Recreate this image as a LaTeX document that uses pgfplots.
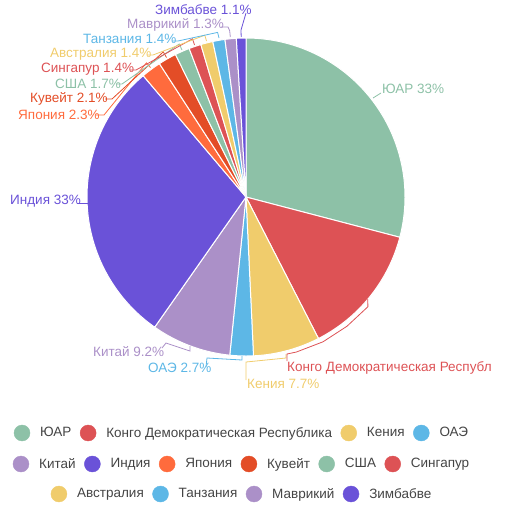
\documentclass[border=0pt]{standalone}
\usepackage{fontspec}
\setmainfont{Liberation Sans}
\usepackage{pgfplots}
\usepackage{pgfplotstable}
\pgfplotsset{compat=1.18}
\definecolor{cA}{RGB}{141,193,167}
\definecolor{cB}{RGB}{221,82,85}
\definecolor{cC}{RGB}{240,204,108}
\definecolor{cD}{RGB}{93,183,230}
\definecolor{cE}{RGB}{171,144,200}
\definecolor{cF}{RGB}{106,82,216}
\definecolor{cG}{RGB}{255,107,61}
\definecolor{cH}{RGB}{227,77,39}
\definecolor{legtxt}{RGB}{68,68,68}
\pgfplotstableread{
idx value col
0 33 cA
1 15.2 cB
2 7.7 cC
3 2.7 cD
4 9.2 cE
5 33 cF
6 2.3 cG
7 2.1 cH
8 1.7 cA
9 1.4 cB
10 1.4 cC
11 1.4 cD
12 1.3 cE
13 1.1 cF
}\piedata
\newcommand\lblfont{\fontsize{13.5}{15}\selectfont}
\begin{document}
\begin{tikzpicture}
\useasboundingbox (0,0) rectangle (510pt,509pt);
\begin{axis}[at={(0,0)}, anchor=south west, x=1pt, y=1pt,
  xmin=0, xmax=510, ymin=0, ymax=509, y dir=reverse,
  hide axis, clip=false]
\gdef\total{0}
\pgfplotsforeachungrouped \i in {0,...,13} {%
  \pgfplotstablegetelem{\i}{value}\of\piedata
  \pgfmathsetmacro\tmpsum{\total+\pgfplotsretval}\xdef\total{\tmpsum}%
}
\gdef\cum{0}
\pgfplotsforeachungrouped \i in {0,...,13} {%
  \pgfplotstablegetelem{\i}{value}\of\piedata \let\myv\pgfplotsretval
  \pgfplotstablegetelem{\i}{col}\of\piedata \let\myc\pgfplotsretval
  \pgfmathsetmacro\aS{90-\cum/\total*360}%
  \pgfmathsetmacro\tmpsum{\cum+\myv}\xdef\cum{\tmpsum}%
  \pgfmathsetmacro\aE{90-\cum/\total*360}%
  \edef\doplot{\noexpand\addplot[fill=\myc, draw=white, line width=1pt, line join=round, domain=\aE:\aS, samples=80] ({246+159*cos(x)},{197-159*sin(x)}) -- (axis cs:246,197) -- cycle;}%
  \doplot
}
% leader lines
\begin{scope}[line width=0.8pt]
\draw[cA] (axis cs:373,98) -- (axis cs:381,93);
\draw[cF] (axis cs:77,203) -- (axis cs:88,203);
\draw[cE] (axis cs:162,348) -- (axis cs:166,343) -- (axis cs:190,351) -- (axis cs:190,346);
\draw[cD] (axis cs:206,367) -- (axis cs:207,358) -- (axis cs:242,360) -- (axis cs:242,356);
\draw[cC] (axis cs:246,380) -- (axis cs:246,362) -- (axis cs:286,358) -- (axis cs:286,354);
\draw[cB] (axis cs:287,361) -- (axis cs:287,354) -- (axis cs:{246+163*cos(-72)},{197+163*sin(72)}) -- (axis cs:{246+164*cos(-62)},{197+164*sin(62)}) -- (axis cs:{246+164*cos(-52)},{197+164*sin(52)}) -- (axis cs:{246+164*cos(-42)},{197+164*sin(42)}) -- (axis cs:{246+159*cos(-40)},{197+159*sin(40)});
\draw[cG] (axis cs:96,115) -- (axis cs:104,115) -- (axis cs:146.4,62.9) -- (axis cs:150.5,67.5);
\draw[cH] (axis cs:105,99) -- (axis cs:112,99) -- (axis cs:163.3,51.9) -- (axis cs:166.5,57.5);
\draw[cA] (axis cs:116,84) -- (axis cs:122,84) -- (axis cs:179.2,44.0) -- (axis cs:182,50);
\draw[cB] (axis cs:130,70) -- (axis cs:136,70) -- (axis cs:192.5,38.8) -- (axis cs:194.5,45);
\draw[cC] (axis cs:147,55) -- (axis cs:153,55) -- (axis cs:204.8,35.2) -- (axis cs:206.5,41);
\draw[cD] (axis cs:172,41) -- (axis cs:178,41) -- (axis cs:217.6,32.4) -- (axis cs:219,38);
\draw[cE] (axis cs:221,27) -- (axis cs:228,27) -- (axis cs:229.7,30.8) -- (axis cs:230.3,37);
\draw[cF] (axis cs:246,13) -- (axis cs:241,30.1) -- (axis cs:241.2,37);
\end{scope}
% labels
\begin{scope}[every node/.style={anchor=west, inner sep=0pt, font=\lblfont}]
\node[text=cA] at (axis cs:382,89) {ЮАР 33\%};
\node[text=cB] at (axis cs:287,368) {Конго Демократическая Республ};
\node[text=cC] at (axis cs:247,384) {Кения 7.7\%};
\node[text=cD] at (axis cs:148,368) {ОАЭ 2.7\%};
\node[text=cE] at (axis cs:93,352) {Китай 9.2\%};
\node[text=cF] at (axis cs:10,201) {Индия 33\%};
\node[text=cG] at (axis cs:18,115) {Япония 2.3\%};
\node[text=cH] at (axis cs:30,99) {Кувейт 2.1\%};
\node[text=cA] at (axis cs:55,84) {США 1.7\%};
\node[text=cB] at (axis cs:41,69) {Сингапур 1.4\%};
\node[text=cC] at (axis cs:50,54) {Австралия 1.4\%};
\node[text=cD] at (axis cs:83,39) {Танзания 1.4\%};
\node[text=cE] at (axis cs:127,25) {Маврикий 1.3\%};
\node[text=cF] at (axis cs:155,10) {Зимбабве 1.1\%};
\end{scope}
\end{axis}
\pgfplotsset{legrow/.style={at={(0,0)}, anchor=south west, x=1pt, y=1pt,
  xmin=0, xmax=510, ymin=0, ymax=509, y dir=reverse, hide axis,
  legend style={anchor=center, draw=none, fill=none, font=\lblfont,
    nodes={inner sep=0pt, text=legtxt},
    /tikz/every odd column/.append style={column sep=10pt},
    /tikz/every even column/.append style={column sep=8.5pt}},
  legend image code/.code={\fill[##1] (0pt,0pt) circle (8pt);}}}
\begin{axis}[legrow, legend columns=4, legend style={at={(241/510,1-433/509)}}]
\addlegendimage{cA}\addlegendentry{ЮАР}
\addlegendimage{cB}\addlegendentry{Конго Демократическая Республика}
\addlegendimage{cC}\addlegendentry{Кения}
\addlegendimage{cD}\addlegendentry{ОАЭ}
\end{axis}
\begin{axis}[legrow, legend columns=6, legend style={at={(241/510,1-464/509)}}]
\addlegendimage{cE}\addlegendentry{Китай}
\addlegendimage{cF}\addlegendentry{Индия}
\addlegendimage{cG}\addlegendentry{Япония}
\addlegendimage{cH}\addlegendentry{Кувейт}
\addlegendimage{cA}\addlegendentry{США}
\addlegendimage{cB}\addlegendentry{Сингапур}
\end{axis}
\begin{axis}[legrow, legend columns=4, legend style={at={(241/510,1-494/509)}}]
\addlegendimage{cC}\addlegendentry{Австралия}
\addlegendimage{cD}\addlegendentry{Танзания}
\addlegendimage{cE}\addlegendentry{Маврикий}
\addlegendimage{cF}\addlegendentry{Зимбабве}
\end{axis}
\end{tikzpicture}
\end{document}
